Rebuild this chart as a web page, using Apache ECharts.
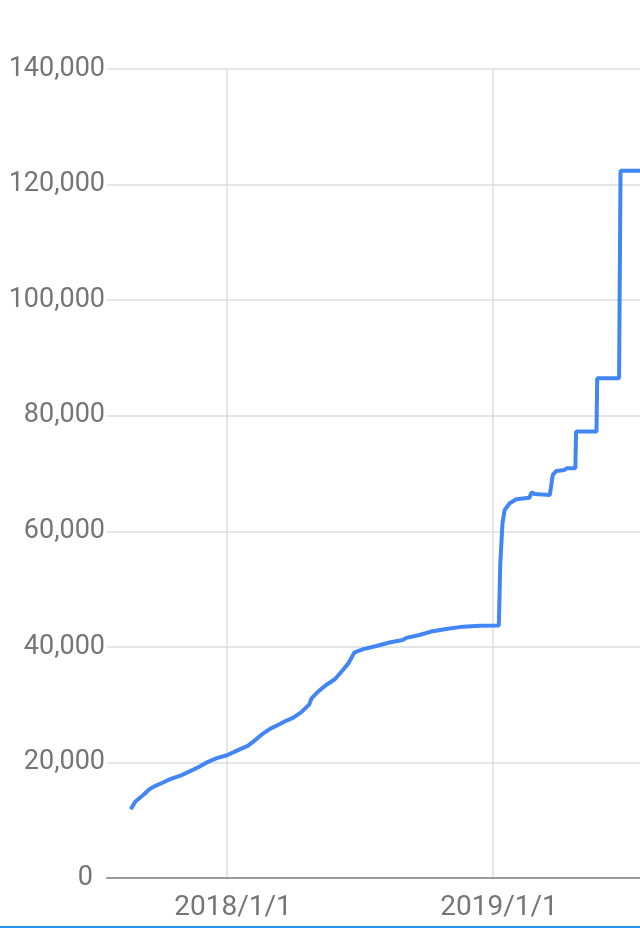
<!DOCTYPE html>
<html>
<head>
<meta charset="utf-8">
<script src="https://cdn.jsdelivr.net/npm/echarts@6/dist/echarts.min.js"></script>
<style>
html,body{margin:0;padding:0;background:#fff;}
#chart{width:640px;height:929px;}
</style>
</head>
<body>
<div id="chart"></div>
<script>
// Dates of the observations
const dates = [
  '2017-08-22','2017-08-28','2017-09-08','2017-09-17','2017-09-24','2017-10-03','2017-10-15','2017-10-29',
  '2017-11-10','2017-11-24','2017-12-06','2017-12-18','2018-01-01','2018-01-14','2018-01-30','2018-02-10',
  '2018-02-19','2018-03-01','2018-03-14','2018-03-23','2018-04-02','2018-04-13','2018-04-24','2018-04-27',
  '2018-05-06','2018-05-17','2018-05-29','2018-06-07','2018-06-16','2018-06-25','2018-07-07','2018-07-25',
  '2018-08-12','2018-08-30','2018-09-04','2018-09-22','2018-10-08','2018-10-29','2018-11-21','2018-12-14',
  '2019-01-09','2019-01-11','2019-01-14','2019-01-17','2019-01-24','2019-02-02','2019-02-04','2019-02-20',
  '2019-02-23','2019-02-27','2019-03-20','2019-03-24','2019-03-29','2019-04-09','2019-04-12','2019-04-24',
  '2019-04-25','2019-05-23','2019-05-24','2019-06-23','2019-06-25','2019-08-31'
];
// Cumulative values
const values = [
  11900,13200,14350,15400,15900,16400,17100,17700,
  18400,19250,20100,20750,21250,22000,22900,24000,
  24950,25800,26600,27200,27750,28700,30050,31100,
  32250,33400,34400,35700,37050,39050,39600,40150,
  40750,41200,41550,42050,42650,43100,43500,43650,
  43700,54450,61400,63700,64850,65550,65800,65800,
  66750,66450,66300,69750,70450,70600,70900,70900,
  77250,77250,86500,86500,122400,122400
];
// Axis ticks
const yTicks = [0,20000,40000,60000,80000,100000,120000,140000];
const xTickLabels = ['2018/1/1','2019/1/1'];

const EPOCH = Date.UTC(2018,0,1);
const DAY = 86400000;
function dayOffset(s){
  const p = s.split('-').map(Number);
  return (Date.UTC(p[0],p[1]-1,p[2]) - EPOCH)/DAY;
}
function fmtDay(v){
  const d = new Date(EPOCH + Math.round(v)*DAY);
  return d.getUTCFullYear()+'/'+(d.getUTCMonth()+1)+'/'+d.getUTCDate();
}
const seriesData = dates.map((d,i)=>[dayOffset(d), values[i]]);

const chart = echarts.init(document.getElementById('chart'), null, {renderer:'canvas'});
const labelColor = '#757575';
const fontFamily = 'Roboto, "Noto Sans", sans-serif';
chart.setOption({
  animation:false,
  backgroundColor:'#ffffff',
  grid:[
    {left:-39, top:69, bottom:51, width:798, containLabel:false, outerBoundsMode:'none'},
    {left:107, top:69, bottom:51, width:652, containLabel:false, outerBoundsMode:'none'}
  ],
  xAxis:[
    {
      type:'value', gridIndex:0, min:-365, max:730, interval:365,
      axisLine:{show:false}, axisTick:{show:false},
      splitLine:{show:true, lineStyle:{color:'#dcdcdc', width:1.5}},
      axisLabel:{
        show:true, color:labelColor, fontSize:28, fontFamily:fontFamily, margin:16,
        padding:[0,0,0,12],
        formatter:function(v){ const s = fmtDay(v); return xTickLabels.indexOf(s)>=0 ? s : ''; }
      }
    },
    {
      type:'value', gridIndex:1, min:0, max:1,
      axisLine:{show:true, lineStyle:{color:'#9a9a9a', width:2}},
      axisTick:{show:false}, axisLabel:{show:false}, splitLine:{show:false}
    }
  ],
  yAxis:[
    {type:'value', gridIndex:0, min:0, max:140000, interval:20000, show:false, splitLine:{show:false}},
    {
      type:'value', gridIndex:1, min:yTicks[0], max:yTicks[yTicks.length-1], interval:20000,
      axisLine:{show:false}, axisTick:{show:false},
      splitLine:{show:true, lineStyle:{color:'#dcdcdc', width:1.5}},
      axisLabel:{
        color:labelColor, fontSize:27, fontFamily:fontFamily, margin:2,
        formatter:function(v){ return v===0 ? '{z|0}' : v.toLocaleString('en-US'); },
        rich:{z:{color:labelColor, fontSize:27, fontFamily:fontFamily, padding:[0,12,0,0]}}
      }
    }
  ],
  series:[{
    type:'line', xAxisIndex:0, yAxisIndex:0,
    data:seriesData, showSymbol:false, symbol:'none',
    lineStyle:{color:'#4285f4', width:4},
    z:5
  }],
  graphic:[{
    type:'rect', shape:{x:0, y:926, width:640, height:2}, style:{fill:'#2196f3'}, silent:true
  }]
});
</script>
</body>
</html>
